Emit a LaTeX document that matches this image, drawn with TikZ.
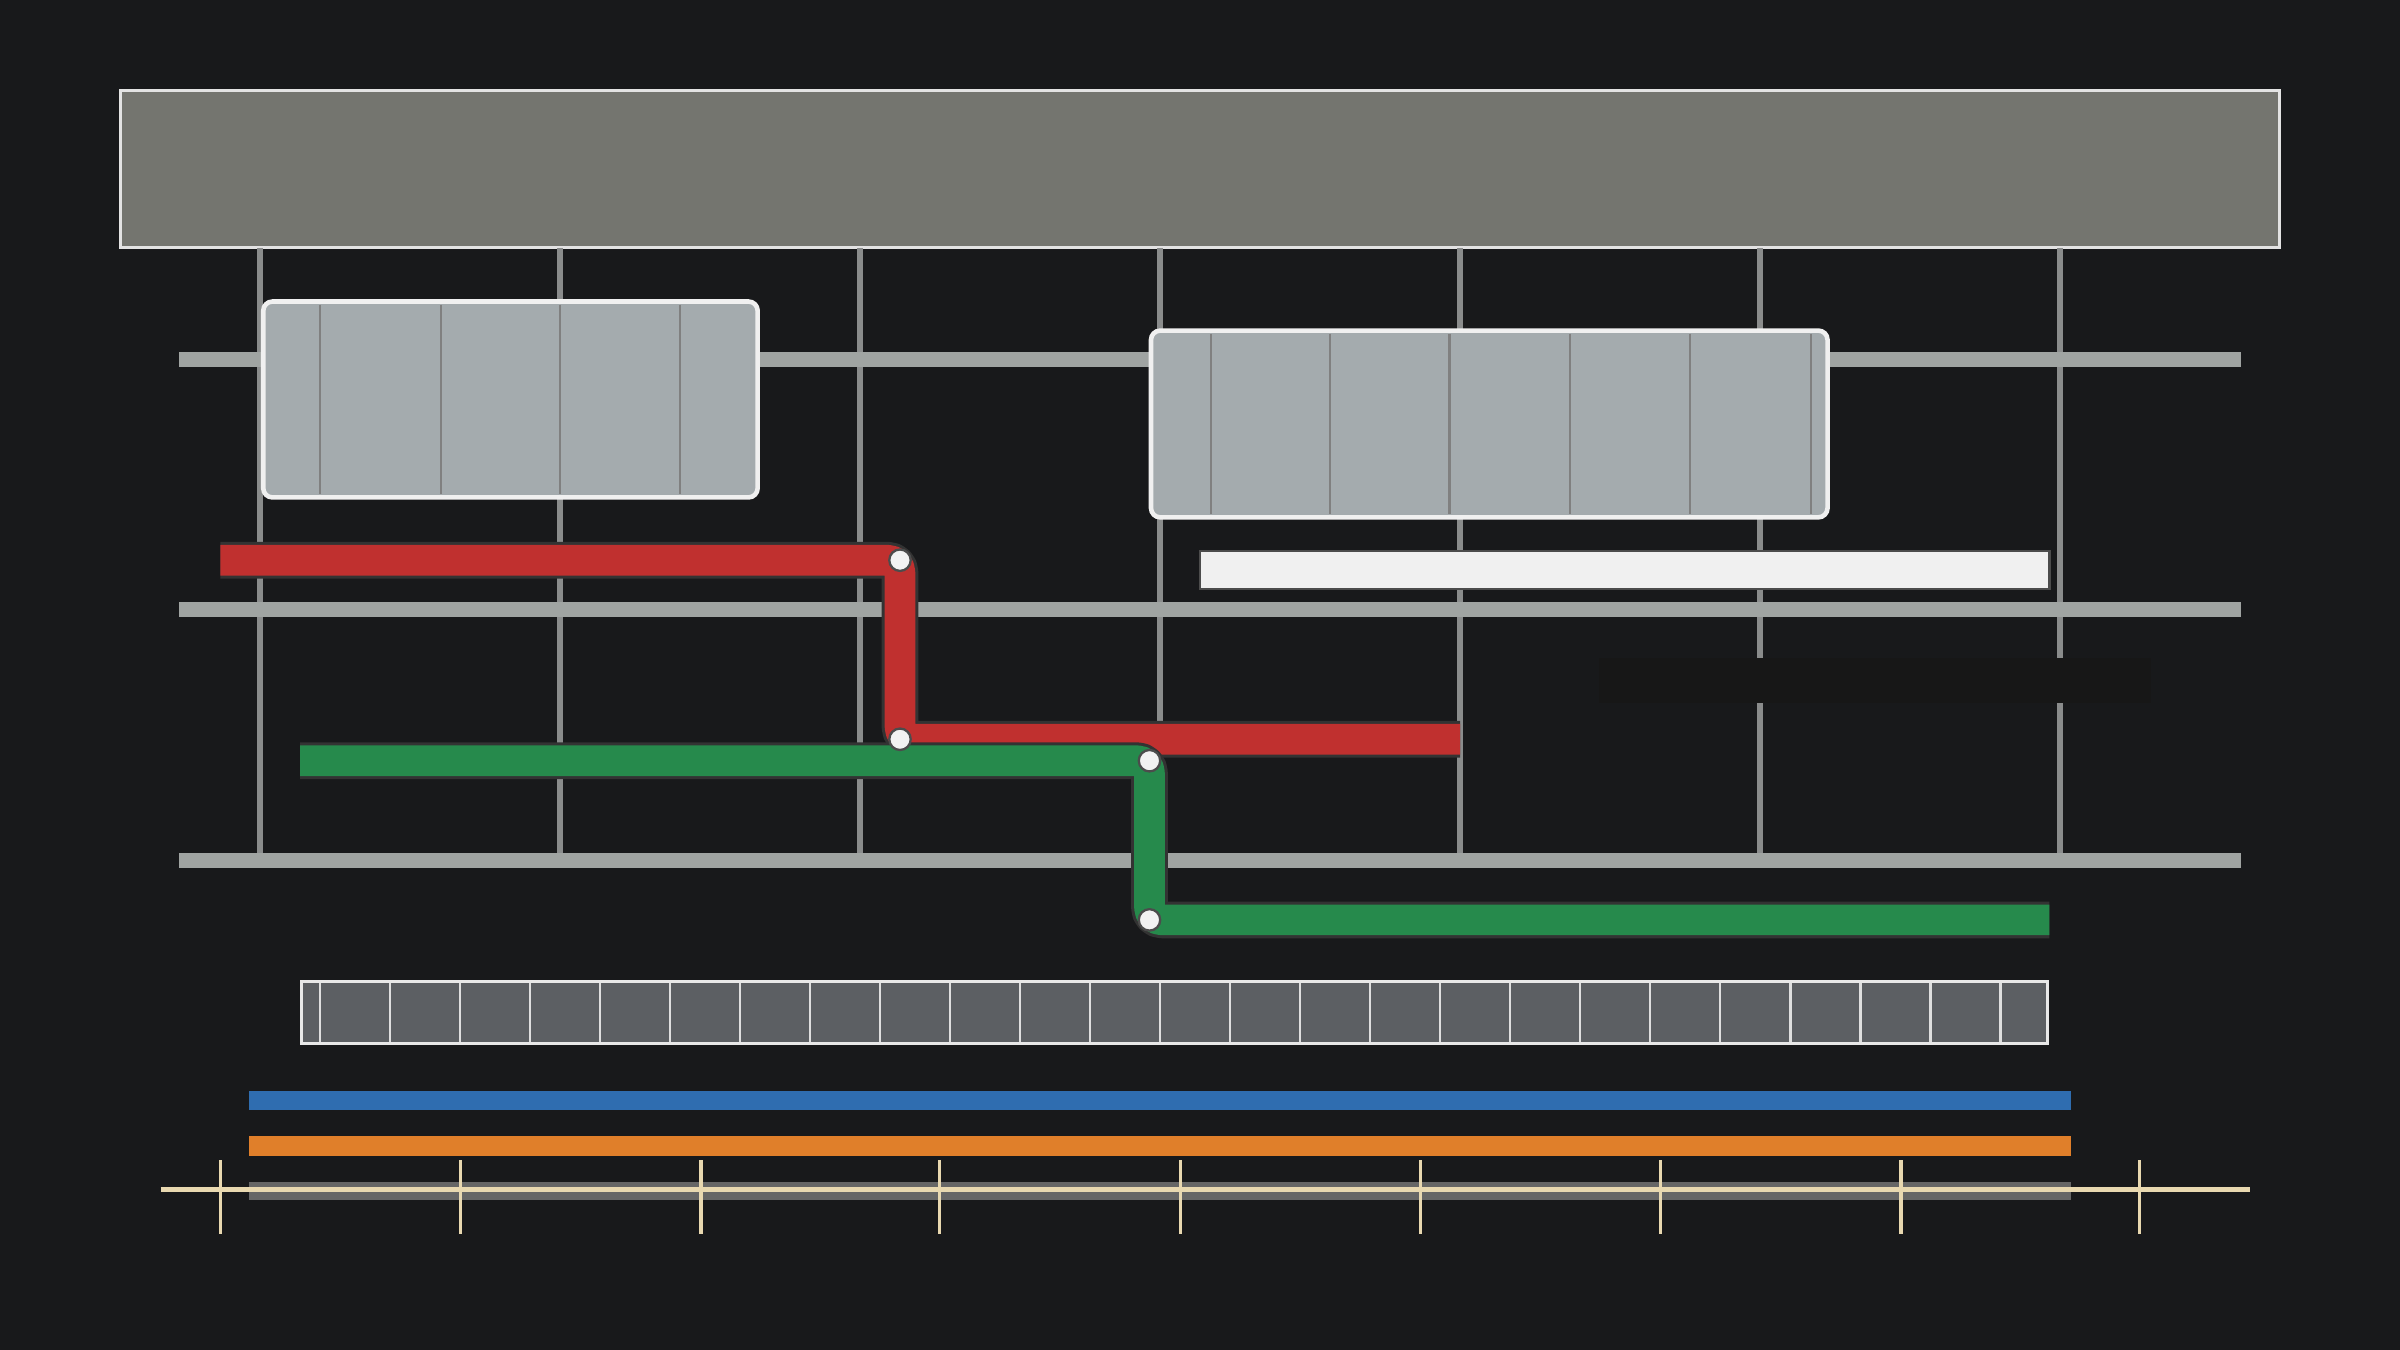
\documentclass[tikz,border=0pt]{standalone}
\usetikzlibrary{positioning}
\definecolor{bgcolor}{HTML}{18191B}
\definecolor{bannercolor}{HTML}{74756F}
\definecolor{gridcolor}{HTML}{8A8C8C}
\definecolor{railcolor}{HTML}{A0A4A2}
\definecolor{boxcolor}{HTML}{A4ABAE}
\definecolor{redline}{HTML}{C0302F}
\definecolor{greenline}{HTML}{268A4C}
\definecolor{stripcolor}{HTML}{5C5F63}
\definecolor{bluebar}{HTML}{2F6DB0}
\definecolor{orangebar}{HTML}{E07F2A}
\definecolor{axiscolor}{HTML}{E8D8B0}
\begin{document}
\begin{tikzpicture}[x=0.01cm,y=-0.01cm,
    rail/.style={railcolor, line width=10*0.2845pt},
    grid/.style={gridcolor, line width=4*0.2845pt},
    panel/.style={fill=boxcolor, draw=white!88!gray, line width=3*0.2845pt, rounded corners=6*0.2845pt},
    route/.style={line width=20*0.2845pt, line join=round, rounded corners=8*0.2845pt},
    casing/.style={black!80, line width=24*0.2845pt, line join=round, rounded corners=8*0.2845pt},
    stop/.style={circle, fill=white!90!gray, draw=black!70, inner sep=0pt, minimum size=14*0.2845pt, line width=1.5*0.2845pt}]
    % background
    \fill[bgcolor] (0,0) rectangle (1568,882);
    % banner
    \draw[fill=bannercolor, draw=white!78!gray, line width=2*0.2845pt] (79,59) rectangle (1489,162);
    % columns
    \foreach \x in {170,366,562,758,954,1150,1346}
        \draw[grid] (\x,162) -- (\x,560);
    % rails
    \foreach \y in {235,398,562}
        \draw[rail] (117,\y) -- (1464,\y);
    % panels
    \draw[panel] (172,197) rectangle (495,325);
    \foreach \x in {209,288,366,444}
        \draw[gray] (\x,199) -- (\x,323);
    \draw[panel] (752,216) rectangle (1194,338);
    \foreach \x in {791,869,947,1026,1104,1183}
        \draw[gray] (\x,218) -- (\x,336);
    % bars
    \draw[fill=white!88!gray, draw=black!70] (784,360) rectangle (1339,385);
    \fill[black!82!gray] (1045,430) rectangle (1405,459);
    % routes
    \coordinate (r0) at (144,366);
    \coordinate (r3) at (954,483);
    \draw[casing] (r0) -- (588,366) -- (588,483) -- (r3);
    \draw[route, redline] (r0) -- (588,366) -- (588,483) -- (r3);
    \coordinate (g0) at (196,497);
    \coordinate (g3) at (1339,601);
    \draw[casing] (g0) -- (751,497) -- (751,601) -- (g3);
    \draw[route, greenline] (g0) -- (751,497) -- (751,601) -- (g3);
    \node[stop] (r1) at (588,366) {};
    \node[stop] (r2) at (588,483) {};
    \node[stop] (g1) at (751,497) {};
    \node[stop] (g2) at (751,601) {};
    % strip
    \draw[fill=stripcolor, draw=white!82!gray, line width=2*0.2845pt] (197,641) rectangle (1338,682);
    \foreach \i in {0,...,24}
        \draw[white!75!gray] (209+45.75*\i,642) -- (209+45.75*\i,681);
    % timeline bars
    \fill[bluebar] (163,713) rectangle (1353,725);
    \fill[orangebar] (163,742) rectangle (1353,755);
    \fill[gray!80!black] (163,772) rectangle (1353,784);
    \draw[axiscolor, line width=3*0.2845pt] (105,777) -- (1470,777);
    \foreach \x in {144,301,458,614,771,928,1085,1242,1398}
        \draw[axiscolor, line width=2*0.2845pt] (\x,758) -- (\x,806);
\end{tikzpicture}
\end{document}
